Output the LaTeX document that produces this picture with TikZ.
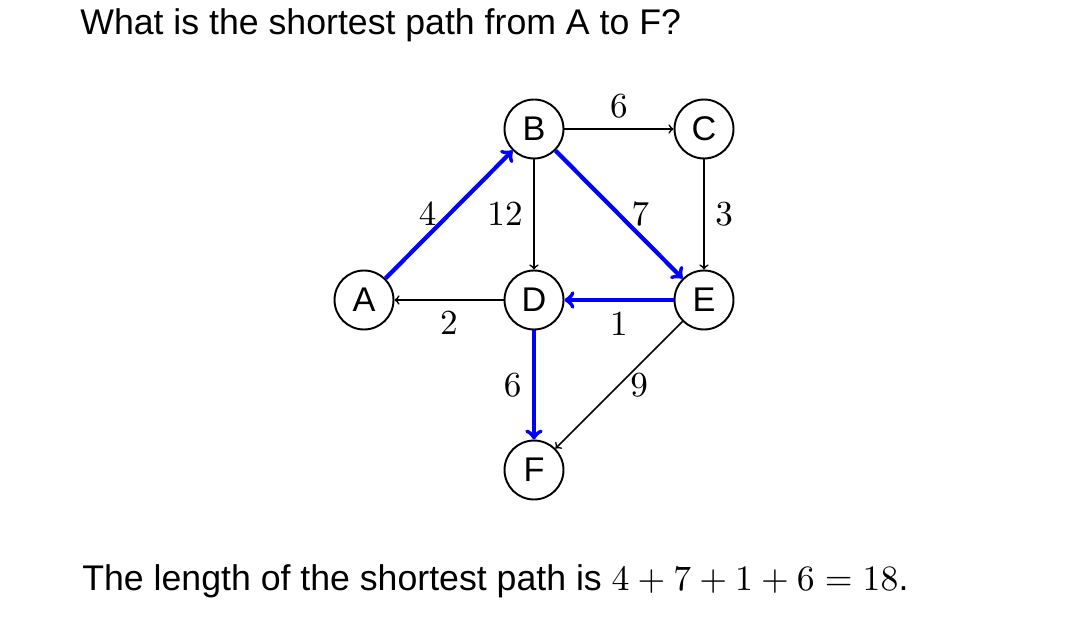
\documentclass[tikz,border=0pt]{standalone}
\usepackage{fontspec}
\setmainfont{Liberation Sans}
\usepackage{amsmath}
\usepackage{xcolor}
\DeclareFontShape{OT1}{cmr}{m}{n}{<->cmr10}{}
\usetikzlibrary{arrows,positioning}

\begin{document}
\begin{tikzpicture}[
        x=0.02cm, y=-0.02cm,
        vertex/.style={circle, draw, line width=1.1pt, minimum size=1.18cm, inner sep=0pt, font=\fontsize{19.5}{21}\selectfont},
        arrow/.style={->, line width=0.95pt},
        bluearrow/.style={->, line width=2.4pt, blue},
        weight/.style={font=\fontsize{20}{23}\selectfont, inner sep=6pt},
        caption/.style={anchor=base west, inner sep=0pt, font=\fontsize{20.3}{24}\selectfont}
    ]
        \useasboundingbox (0,0) rectangle (1078,628);
        % Question and answer
        \node[caption] (question) at (80,35) {What is the shortest path from A to F?};
        \node[caption] (answer) at (82,590) {The length of the shortest path is $4+7+1+6=18$.};

        % Vertices
        \node[vertex] (A) at (364,300) {A};
        \node[vertex] (B) at (534,129) {B};
        \node[vertex] (C) at (704,129) {C};
        \node[vertex] (D) at (534,300) {D};
        \node[vertex] (E) at (704,300) {E};
        \node[vertex] (F) at (534,470) {F};

        % Edges
        \draw[arrow] (B) -- node[weight, above] {$6$} (C);
        \draw[arrow] (B) -- node[weight, left] {$12$} (D);
        \draw[arrow] (C) -- node[weight, right] {$3$} (E);
        \draw[arrow] (D) -- node[weight, below] {$2$} (A);
        \draw[arrow] (E) -- node[weight, right] {$9$} (F);

        % Shortest path
        \draw[bluearrow] (A) -- node[weight, left, black] {$4$} (B);
        \draw[bluearrow] (B) -- node[weight, right, black] {$7$} (E);
        \draw[bluearrow] (E) -- node[weight, below, black] {$1$} (D);
        \draw[bluearrow] (D) -- node[weight, left, black] {$6$} (F);
    \end{tikzpicture}
\end{document}
